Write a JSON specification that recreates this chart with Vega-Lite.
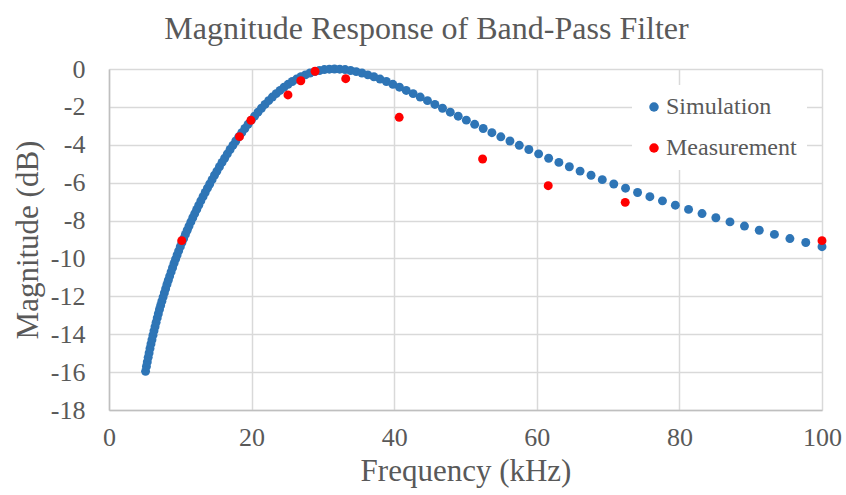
{
  "$schema": "https://vega.github.io/schema/vega-lite/v6.json",
  "width": 713,
  "height": 341,
  "autosize": {"type": "none"},
  "padding": {"left": 109, "top": 69, "right": 24, "bottom": 85},
  "background": "white",
  "title": {
    "text": "Magnitude Response of Band-Pass Filter",
    "font": "Liberation Serif",
    "fontSize": 32,
    "fontWeight": "normal",
    "color": "#595959",
    "anchor": "middle",
    "dx": -39,
    "offset": 10
  },
  "data": {
    "values": [
      {"f": 5.129, "dB": -15.96, "series": "Simulation"},
      {"f": 5.248, "dB": -15.70, "series": "Simulation"},
      {"f": 5.370, "dB": -15.46, "series": "Simulation"},
      {"f": 5.495, "dB": -15.22, "series": "Simulation"},
      {"f": 5.623, "dB": -14.99, "series": "Simulation"},
      {"f": 5.754, "dB": -14.75, "series": "Simulation"},
      {"f": 5.888, "dB": -14.51, "series": "Simulation"},
      {"f": 6.026, "dB": -14.29, "series": "Simulation"},
      {"f": 6.166, "dB": -14.05, "series": "Simulation"},
      {"f": 6.310, "dB": -13.82, "series": "Simulation"},
      {"f": 6.457, "dB": -13.60, "series": "Simulation"},
      {"f": 6.607, "dB": -13.37, "series": "Simulation"},
      {"f": 6.761, "dB": -13.14, "series": "Simulation"},
      {"f": 6.918, "dB": -12.92, "series": "Simulation"},
      {"f": 7.079, "dB": -12.69, "series": "Simulation"},
      {"f": 7.244, "dB": -12.48, "series": "Simulation"},
      {"f": 7.413, "dB": -12.26, "series": "Simulation"},
      {"f": 7.586, "dB": -12.04, "series": "Simulation"},
      {"f": 7.762, "dB": -11.82, "series": "Simulation"},
      {"f": 7.943, "dB": -11.60, "series": "Simulation"},
      {"f": 8.128, "dB": -11.37, "series": "Simulation"},
      {"f": 8.318, "dB": -11.15, "series": "Simulation"},
      {"f": 8.511, "dB": -10.93, "series": "Simulation"},
      {"f": 8.710, "dB": -10.71, "series": "Simulation"},
      {"f": 8.913, "dB": -10.49, "series": "Simulation"},
      {"f": 9.120, "dB": -10.26, "series": "Simulation"},
      {"f": 9.333, "dB": -10.04, "series": "Simulation"},
      {"f": 9.550, "dB": -9.82, "series": "Simulation"},
      {"f": 9.772, "dB": -9.60, "series": "Simulation"},
      {"f": 10.000, "dB": -9.38, "series": "Simulation"},
      {"f": 10.233, "dB": -9.16, "series": "Simulation"},
      {"f": 10.471, "dB": -8.95, "series": "Simulation"},
      {"f": 10.715, "dB": -8.73, "series": "Simulation"},
      {"f": 10.965, "dB": -8.51, "series": "Simulation"},
      {"f": 11.220, "dB": -8.29, "series": "Simulation"},
      {"f": 11.482, "dB": -8.07, "series": "Simulation"},
      {"f": 11.749, "dB": -7.85, "series": "Simulation"},
      {"f": 12.023, "dB": -7.63, "series": "Simulation"},
      {"f": 12.303, "dB": -7.41, "series": "Simulation"},
      {"f": 12.589, "dB": -7.19, "series": "Simulation"},
      {"f": 12.883, "dB": -6.96, "series": "Simulation"},
      {"f": 13.183, "dB": -6.74, "series": "Simulation"},
      {"f": 13.490, "dB": -6.52, "series": "Simulation"},
      {"f": 13.804, "dB": -6.29, "series": "Simulation"},
      {"f": 14.125, "dB": -6.07, "series": "Simulation"},
      {"f": 14.454, "dB": -5.84, "series": "Simulation"},
      {"f": 14.791, "dB": -5.61, "series": "Simulation"},
      {"f": 15.136, "dB": -5.39, "series": "Simulation"},
      {"f": 15.488, "dB": -5.16, "series": "Simulation"},
      {"f": 15.849, "dB": -4.93, "series": "Simulation"},
      {"f": 16.218, "dB": -4.71, "series": "Simulation"},
      {"f": 16.596, "dB": -4.48, "series": "Simulation"},
      {"f": 16.982, "dB": -4.25, "series": "Simulation"},
      {"f": 17.378, "dB": -4.03, "series": "Simulation"},
      {"f": 17.783, "dB": -3.80, "series": "Simulation"},
      {"f": 18.197, "dB": -3.58, "series": "Simulation"},
      {"f": 18.621, "dB": -3.36, "series": "Simulation"},
      {"f": 19.055, "dB": -3.14, "series": "Simulation"},
      {"f": 19.498, "dB": -2.92, "series": "Simulation"},
      {"f": 19.953, "dB": -2.70, "series": "Simulation"},
      {"f": 20.417, "dB": -2.49, "series": "Simulation"},
      {"f": 20.893, "dB": -2.28, "series": "Simulation"},
      {"f": 21.380, "dB": -2.07, "series": "Simulation"},
      {"f": 21.878, "dB": -1.87, "series": "Simulation"},
      {"f": 22.387, "dB": -1.67, "series": "Simulation"},
      {"f": 22.909, "dB": -1.48, "series": "Simulation"},
      {"f": 23.442, "dB": -1.30, "series": "Simulation"},
      {"f": 23.988, "dB": -1.13, "series": "Simulation"},
      {"f": 24.547, "dB": -0.96, "series": "Simulation"},
      {"f": 25.119, "dB": -0.81, "series": "Simulation"},
      {"f": 25.704, "dB": -0.66, "series": "Simulation"},
      {"f": 26.303, "dB": -0.53, "series": "Simulation"},
      {"f": 26.915, "dB": -0.41, "series": "Simulation"},
      {"f": 27.542, "dB": -0.31, "series": "Simulation"},
      {"f": 28.184, "dB": -0.21, "series": "Simulation"},
      {"f": 28.840, "dB": -0.14, "series": "Simulation"},
      {"f": 29.512, "dB": -0.08, "series": "Simulation"},
      {"f": 30.200, "dB": -0.03, "series": "Simulation"},
      {"f": 30.903, "dB": -0.01, "series": "Simulation"},
      {"f": 31.623, "dB": 0.00, "series": "Simulation"},
      {"f": 32.359, "dB": -0.01, "series": "Simulation"},
      {"f": 33.113, "dB": -0.03, "series": "Simulation"},
      {"f": 33.884, "dB": -0.08, "series": "Simulation"},
      {"f": 34.674, "dB": -0.14, "series": "Simulation"},
      {"f": 35.481, "dB": -0.21, "series": "Simulation"},
      {"f": 36.308, "dB": -0.31, "series": "Simulation"},
      {"f": 37.154, "dB": -0.41, "series": "Simulation"},
      {"f": 38.019, "dB": -0.53, "series": "Simulation"},
      {"f": 38.905, "dB": -0.66, "series": "Simulation"},
      {"f": 39.811, "dB": -0.81, "series": "Simulation"},
      {"f": 40.738, "dB": -0.96, "series": "Simulation"},
      {"f": 41.687, "dB": -1.13, "series": "Simulation"},
      {"f": 42.658, "dB": -1.30, "series": "Simulation"},
      {"f": 43.652, "dB": -1.48, "series": "Simulation"},
      {"f": 44.668, "dB": -1.67, "series": "Simulation"},
      {"f": 45.709, "dB": -1.87, "series": "Simulation"},
      {"f": 46.774, "dB": -2.07, "series": "Simulation"},
      {"f": 47.863, "dB": -2.28, "series": "Simulation"},
      {"f": 48.978, "dB": -2.49, "series": "Simulation"},
      {"f": 50.119, "dB": -2.70, "series": "Simulation"},
      {"f": 51.286, "dB": -2.92, "series": "Simulation"},
      {"f": 52.481, "dB": -3.14, "series": "Simulation"},
      {"f": 53.703, "dB": -3.36, "series": "Simulation"},
      {"f": 54.954, "dB": -3.58, "series": "Simulation"},
      {"f": 56.234, "dB": -3.80, "series": "Simulation"},
      {"f": 57.544, "dB": -4.03, "series": "Simulation"},
      {"f": 58.884, "dB": -4.25, "series": "Simulation"},
      {"f": 60.256, "dB": -4.48, "series": "Simulation"},
      {"f": 61.660, "dB": -4.71, "series": "Simulation"},
      {"f": 63.096, "dB": -4.93, "series": "Simulation"},
      {"f": 64.565, "dB": -5.16, "series": "Simulation"},
      {"f": 66.069, "dB": -5.39, "series": "Simulation"},
      {"f": 67.608, "dB": -5.61, "series": "Simulation"},
      {"f": 69.183, "dB": -5.84, "series": "Simulation"},
      {"f": 70.795, "dB": -6.07, "series": "Simulation"},
      {"f": 72.444, "dB": -6.29, "series": "Simulation"},
      {"f": 74.131, "dB": -6.52, "series": "Simulation"},
      {"f": 75.858, "dB": -6.74, "series": "Simulation"},
      {"f": 77.625, "dB": -6.96, "series": "Simulation"},
      {"f": 79.433, "dB": -7.19, "series": "Simulation"},
      {"f": 81.283, "dB": -7.41, "series": "Simulation"},
      {"f": 83.176, "dB": -7.63, "series": "Simulation"},
      {"f": 85.114, "dB": -7.85, "series": "Simulation"},
      {"f": 87.096, "dB": -8.07, "series": "Simulation"},
      {"f": 89.125, "dB": -8.29, "series": "Simulation"},
      {"f": 91.201, "dB": -8.51, "series": "Simulation"},
      {"f": 93.325, "dB": -8.73, "series": "Simulation"},
      {"f": 95.499, "dB": -8.95, "series": "Simulation"},
      {"f": 97.724, "dB": -9.16, "series": "Simulation"},
      {"f": 100.000, "dB": -9.38, "series": "Simulation"},
      {"f": 10.2, "dB": -9.06, "series": "Measurement"},
      {"f": 18.3, "dB": -3.57, "series": "Measurement"},
      {"f": 19.9, "dB": -2.71, "series": "Measurement"},
      {"f": 25.1, "dB": -1.37, "series": "Measurement"},
      {"f": 26.9, "dB": -0.62, "series": "Measurement"},
      {"f": 28.9, "dB": -0.12, "series": "Measurement"},
      {"f": 33.2, "dB": -0.51, "series": "Measurement"},
      {"f": 40.7, "dB": -2.55, "series": "Measurement"},
      {"f": 52.4, "dB": -4.75, "series": "Measurement"},
      {"f": 61.6, "dB": -6.16, "series": "Measurement"},
      {"f": 72.4, "dB": -7.04, "series": "Measurement"},
      {"f": 100.0, "dB": -9.06, "series": "Measurement"}
    ]
  },
  "mark": {"type": "point", "filled": true, "opacity": 1, "size": 80, "strokeWidth": 0},
  "encoding": {
    "x": {
      "field": "f",
      "type": "quantitative",
      "title": "Frequency (kHz)",
      "scale": {"domain": [0, 100], "nice": false, "zero": false},
      "axis": {"values": [0, 20, 40, 60, 80, 100], "labelFlush": false, "labelPadding": 14, "titlePadding": 6}
    },
    "y": {
      "field": "dB",
      "type": "quantitative",
      "title": "Magnitude (dB)",
      "scale": {"domain": [-18, 0], "nice": false, "zero": false},
      "axis": {"values": [-18, -16, -14, -12, -10, -8, -6, -4, -2, 0], "labelExpr": "'' + datum.value", "labelFlush": false, "labelPadding": 24, "titlePadding": 6}
    },
    "color": {
      "field": "series",
      "type": "nominal",
      "sort": ["Simulation", "Measurement"],
      "scale": {"domain": ["Simulation", "Measurement"], "range": ["#2E75B6", "#FF0000"]},
      "legend": {
        "title": null,
        "orient": "none",
        "legendX": 523,
        "legendY": 16,
        "fillColor": "white",
        "padding": 10,
        "rowPadding": 17,
        "symbolType": "circle",
        "symbolSize": 90,
        "symbolStrokeWidth": 0,
        "symbolOpacity": 1,
        "labelFont": "Liberation Serif",
        "labelFontSize": 24,
        "labelColor": "#595959",
        "labelOffset": 0
      }
    }
  },
  "config": {
    "view": {"stroke": null},
    "axis": {
      "grid": true,
      "gridColor": "#d9d9d9",
      "gridWidth": 1.5,
      "domainColor": "#bfbfbf",
      "domainWidth": 1.5,
      "ticks": false,
      "tickSize": 0,
      "labelFont": "Liberation Serif",
      "labelFontSize": 26,
      "labelColor": "#595959",
      "titleFont": "Liberation Serif",
      "titleFontSize": 31,
      "titleFontWeight": "normal",
      "titleColor": "#595959"
    }
  }
}
